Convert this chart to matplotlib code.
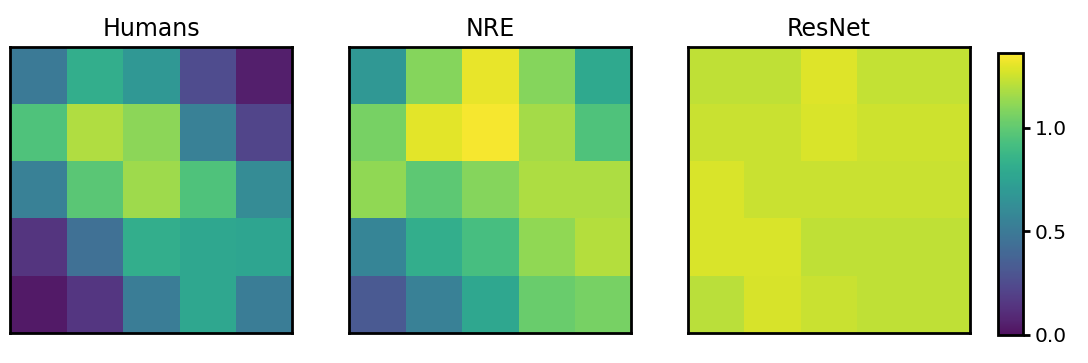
import numpy as np
import matplotlib
matplotlib.use("Agg")
import matplotlib.pyplot as plt

titles = ["Humans", "NRE", "ResNet"]

humans = [
    [0.50, 0.82, 0.68, 0.25, 0.05],
    [0.95, 1.19, 1.11, 0.54, 0.22],
    [0.54, 0.98, 1.15, 0.95, 0.61],
    [0.14, 0.45, 0.82, 0.78, 0.76],
    [0.03, 0.15, 0.52, 0.78, 0.52],
]
nre = [
    [0.68, 1.09, 1.31, 1.09, 0.79],
    [1.06, 1.30, 1.34, 1.16, 0.95],
    [1.12, 0.99, 1.09, 1.18, 1.18],
    [0.57, 0.82, 0.92, 1.12, 1.20],
    [0.32, 0.54, 0.78, 1.02, 1.06],
]
resnet = [
    [1.22, 1.22, 1.29, 1.23, 1.23],
    [1.24, 1.24, 1.28, 1.25, 1.25],
    [1.28, 1.24, 1.24, 1.24, 1.24],
    [1.28, 1.28, 1.22, 1.22, 1.22],
    [1.21, 1.27, 1.24, 1.22, 1.22],
]
cbar_ticks = [0.0, 0.5, 1.0]
vmin, vmax = 0.0, 1.36

fig = plt.figure(figsize=(10.88, 3.63), dpi=100)
W, H = 1088, 363
panels = [(10, 47), (349, 47), (688, 47)]
size = 282

im = None
for (x0, y0), title, data in zip(panels, titles, [humans, nre, resnet]):
    ax = fig.add_axes([x0 / W, 1 - (y0 + 286) / H, size / W, 286 / H])
    im = ax.imshow(np.array(data), cmap="viridis", vmin=vmin, vmax=vmax,
                   interpolation="nearest", aspect="auto", alpha=0.93)
    ax.set_xticks([])
    ax.set_yticks([])
    for s in ax.spines.values():
        s.set_linewidth(2.0)
    ax.set_title(title, fontsize=17, pad=8)

cax = fig.add_axes([998 / W, 1 - 335 / H, 25 / W, 282 / H])
cb = fig.colorbar(im, cax=cax, ticks=cbar_ticks)
cb.outline.set_linewidth(2.0)
cb.ax.tick_params(labelsize=14.5, width=2, length=5)
cb.ax.set_yticklabels([f"{t:.1f}" for t in cbar_ticks])

fig.savefig("out.png", dpi=100)
